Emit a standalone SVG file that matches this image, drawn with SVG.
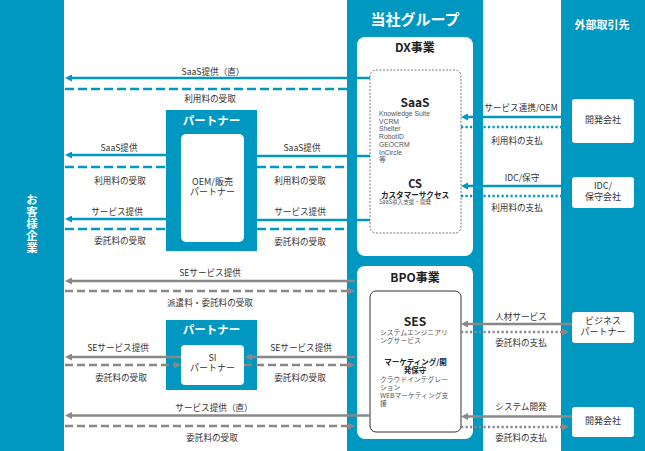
<svg xmlns="http://www.w3.org/2000/svg" width="645" height="451" viewBox="0 0 645 451">
<style>
text{font-family:"Noto Sans CJK JP","Noto Sans",sans-serif;}
.bar{fill:#0098C0;}
.wbox{fill:#ffffff;}
.hd{fill:#ffffff;font-weight:bold;text-anchor:middle;}
.sec{fill:#222;font-weight:bold;text-anchor:middle;font-size:12px;}
.lbl{fill:#333;font-size:8.6px;text-anchor:middle;}
.nt{fill:#333;font-size:9px;text-anchor:middle;}
.sm{fill:#555;font-size:6.8px;}
.lat{font-family:"Liberation Sans","Noto Sans CJK JP",sans-serif;}
.b{stroke:#0098C0;stroke-width:2.3;fill:none;}
.g{stroke:#888888;stroke-width:2.3;fill:none;}
.dash{stroke-dasharray:9 4;}
.gdash{stroke-dasharray:8 4;}
.dot{stroke-dasharray:2.2 2.3;}
</style>
<defs>
<marker id="ab" markerUnits="userSpaceOnUse" markerWidth="8" markerHeight="7" refX="4" refY="3.5" orient="auto">
<path d="M0,0 L7,3.5 L0,7 z" fill="#0098C0"/>
</marker>
<marker id="ag" markerUnits="userSpaceOnUse" markerWidth="8" markerHeight="7" refX="4" refY="3.5" orient="auto">
<path d="M0,0 L7,3.5 L0,7 z" fill="#888888"/>
</marker>
</defs>
<rect width="645" height="451" fill="#ffffff"/>

<g id="customer">
<rect class="bar" x="0" y="0" width="64" height="451"/>
<text class="hd" x="32" y="224" font-size="11.5" style="writing-mode:vertical-rl;letter-spacing:0.5px" dominant-baseline="central">お客様企業</text>
</g>

<g id="company">
<rect class="bar" x="347" y="0" width="136" height="451"/>
<text class="hd" x="415" y="25" font-size="15">当社グループ</text>
</g>

<g id="dx">
<rect class="wbox" x="357" y="37" width="116" height="219" rx="8"/>
<text class="sec" x="415" y="52">DX事業</text>
</g>

<g id="saas">
<rect x="370" y="70" width="91" height="163" rx="6" fill="#ffffff" stroke="#555" stroke-width="0.8" stroke-dasharray="2 1.5"/>
<text x="415" y="107" font-size="12" font-weight="bold" fill="#222" text-anchor="middle">SaaS</text>
<text class="sm lat" x="379" y="115.8"><tspan x="379">Knowledge Suite</tspan><tspan x="379" dy="7.7">VCRM</tspan><tspan x="379" dy="7.8">Shelter</tspan><tspan x="379" dy="7.7">RobotID</tspan><tspan x="379" dy="7.7">GEOCRM</tspan><tspan x="379" dy="8">InCircle</tspan><tspan x="379" dy="7.6">等</tspan></text>
<text x="415" y="187.5" font-size="11" font-weight="bold" fill="#222" text-anchor="middle">CS</text>
<text x="415" y="197.5" font-size="7.6" font-weight="bold" fill="#222" text-anchor="middle">カスタマーサクセス</text>
<text x="379" y="204" font-size="5.6" fill="#555">SaaS導入支援・開発</text>
</g>

<g id="bpo">
<rect class="wbox" x="357" y="266" width="116" height="173" rx="8"/>
<text class="sec" x="415" y="282">BPO事業</text>
</g>

<g id="ses">
<rect x="370" y="291" width="91" height="141" rx="6" fill="#ffffff" stroke="#333" stroke-width="1"/>
<text x="415" y="326" font-size="12" font-weight="bold" fill="#222" text-anchor="middle">SES</text>
<text class="sm" x="380" y="335"><tspan x="380">システムエンジニアリ</tspan><tspan x="380" dy="7.5">ングサービス</tspan></text>
<text x="415.5" y="364.5" font-size="7.5" font-weight="bold" fill="#222" text-anchor="middle"><tspan x="415.5">マーケティング/開</tspan><tspan x="415" dy="8">発保守</tspan></text>
<text class="sm" x="380" y="382"><tspan x="380">クラウドインテグレー</tspan><tspan x="380" dy="7.5">ション</tspan><tspan x="380" dy="8.2">WEBマーケティング支</tspan><tspan x="380" dy="7.8">援</tspan></text>
</g>

<g id="external">
<rect class="bar" x="561" y="0" width="84" height="451"/>
<text class="hd" x="602" y="29" font-size="11">外部取引先</text>
</g>

<g id="dev1">
<rect class="wbox" x="572" y="99" width="62" height="44" rx="3"/>
<text class="nt" x="603" y="123">開発会社</text>
</g>
<g id="idc">
<rect class="wbox" x="572" y="177" width="62" height="31" rx="3"/>
<text class="nt" x="603" y="189"><tspan x="603">IDC/</tspan><tspan x="603" dy="11">保守会社</tspan></text>
</g>
<g id="bizpartner">
<rect class="wbox" x="572" y="312" width="62" height="31" rx="3"/>
<text class="nt" x="603" y="324"><tspan x="603">ビジネス</tspan><tspan x="603" dy="11">パートナー</tspan></text>
</g>
<g id="dev2">
<rect class="wbox" x="572" y="407" width="62" height="30" rx="3"/>
<text class="nt" x="603" y="424">開発会社</text>
</g>

<g id="partner-oem">
<rect class="bar" x="166" y="110" width="91" height="141"/>
<text class="hd" x="211.5" y="125" font-size="11.5">パートナー</text>
<rect class="wbox" x="181" y="134" width="63" height="108" rx="5"/>
<text class="nt" x="212.5" y="185"><tspan x="212.5">OEM/販売</tspan><tspan x="212.5" dy="10">パートナー</tspan></text>
</g>

<g id="partner-si">
<rect class="bar" x="166" y="320" width="91" height="70"/>
<text class="hd" x="211.5" y="334" font-size="11.5">パートナー</text>
<rect class="wbox" x="181" y="345" width="63" height="40" rx="4"/>
<text class="nt" x="212.5" y="361"><tspan x="212.5">SI</tspan><tspan x="212.5" dy="10">パートナー</tspan></text>
</g>

<g id="connectors">
<path class="b" d="M370,78 H68" marker-end="url(#ab)"/>
<path class="b dash" d="M65,89 H347"/>
<path class="b" d="M166,155 H68" marker-end="url(#ab)"/>
<path class="b dash" d="M65,167 H166"/>
<path class="b" d="M166,219 H68" marker-end="url(#ab)"/>
<path class="b dash" d="M65,229 H166"/>
<path class="b" d="M257,156 H370"/>
<path class="b dash" d="M257,167 H347"/>
<path class="b" d="M257,220 H370"/>
<path class="b dash" d="M257,229 H347"/>
<path class="b" d="M572,117 H464" marker-end="url(#ab)"/>
<path class="b dot" d="M461,127 H561"/>
<path class="b" d="M572,186 H464" marker-end="url(#ab)"/>
<path class="b dot" d="M461,196 H561"/>

<path class="g" d="M355,281 H68" marker-end="url(#ag)"/>
<path class="g gdash" d="M65,291 H352" marker-end="url(#ag)"/>
<path class="g" d="M181,357 H68" marker-end="url(#ag)"/>
<path class="g gdash" d="M65,365 H178" marker-end="url(#ag)"/>
<path class="g" d="M355,357 H248" marker-end="url(#ag)"/>
<path class="g gdash" d="M244,365 H352" marker-end="url(#ag)"/>
<path class="g" d="M370,415.5 H68" marker-end="url(#ag)"/>
<path class="g gdash" d="M65,426 H352" marker-end="url(#ag)"/>
<path class="g" d="M572,324 H464" marker-end="url(#ag)"/>
<path class="g dot" d="M461,332 H566" marker-end="url(#ag)"/>
<path class="g" d="M572,416.5 H464" marker-end="url(#ag)"/>
<path class="g dot" d="M461,427 H566" marker-end="url(#ag)"/>
</g>

<g id="connector-labels">
<text class="lbl" x="213" y="75">SaaS提供（直）</text>
<text class="lbl" x="210" y="102">利用料の受取</text>
<text class="lbl" x="119" y="151">SaaS提供</text>
<text class="lbl" x="120" y="184">利用料の受取</text>
<text class="lbl" x="117" y="215">サービス提供</text>
<text class="lbl" x="120" y="244">委託料の受取</text>
<text class="lbl" x="302" y="151">SaaS提供</text>
<text class="lbl" x="300" y="184">利用料の受取</text>
<text class="lbl" x="300" y="215">サービス提供</text>
<text class="lbl" x="300" y="245">委託料の受取</text>
<text class="lbl" x="521" y="111">サービス連携/OEM</text>
<text class="lbl" x="517" y="144">利用料の支払</text>
<text class="lbl" x="522" y="181">IDC/保守</text>
<text class="lbl" x="517" y="211">利用料の支払</text>
<text class="lbl" x="210" y="276">SEサービス提供</text>
<text class="lbl" x="210" y="306">派遣料・委託料の受取</text>
<text class="lbl" x="118" y="351">SEサービス提供</text>
<text class="lbl" x="121" y="381">委託料の受取</text>
<text class="lbl" x="301" y="351">SEサービス提供</text>
<text class="lbl" x="300" y="381">委託料の受取</text>
<text class="lbl" x="214" y="411">サービス提供（直）</text>
<text class="lbl" x="212" y="441">委託料の受取</text>
<text class="lbl" x="521" y="320">人材サービス</text>
<text class="lbl" x="521" y="346">委託料の支払</text>
<text class="lbl" x="521" y="410">システム開発</text>
<text class="lbl" x="521" y="441">委託料の支払</text>
</g>
</svg>
